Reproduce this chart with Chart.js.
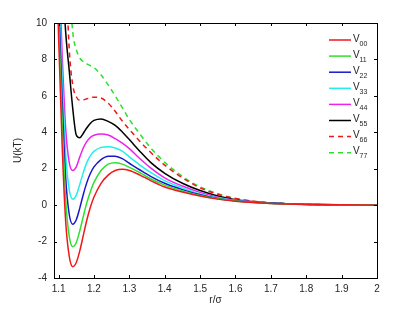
<!DOCTYPE html>
<html>
<head>
<meta charset="utf-8">
<script src="https://cdn.jsdelivr.net/npm/chart.js@4.4.1/dist/chart.umd.min.js"></script>
<style>
html,body{margin:0;padding:0;background:#fff;}
#wrap{width:417px;height:313px;position:relative;}
</style>
</head>
<body>
<div id="wrap"><canvas id="c" width="417" height="313"></canvas></div>
<script>
// r/sigma sample points
const r = [1.09,1.10,1.11,1.12,1.13,1.14,1.15,1.16,1.17,1.18,1.19,1.20,1.22,1.24,1.26,1.28,1.30,1.33,1.36,1.40,1.45,1.50,1.55,1.60,1.65,1.70,1.80,1.90,2.00];
// U(kT) for each pair potential
const V00 = [17,9.2,3.3,-0.9,-2.8,-3.38,-3.15,-2.5,-1.65,-0.8,-0.1,0.45,1.2,1.65,1.9,1.97,1.9,1.65,1.35,1.0,0.72,0.5,0.33,0.22,0.14,0.09,0.04,0.015,0];
const V11 = [17,10.2,4.6,0.3,-1.7,-2.28,-2.05,-1.4,-0.6,0.15,0.75,1.25,1.9,2.25,2.33,2.25,2.07,1.78,1.45,1.1,0.78,0.53,0.35,0.23,0.15,0.095,0.04,0.015,0];
const V22 = [18,11.2,5.8,1.5,-0.5,-1.05,-0.8,-0.15,0.6,1.25,1.75,2.1,2.5,2.69,2.68,2.55,2.3,1.93,1.58,1.2,0.85,0.57,0.37,0.24,0.155,0.1,0.04,0.015,0];
const V33 = [19,12.3,7,2.8,0.85,0.33,0.55,1.15,1.8,2.35,2.72,2.95,3.17,3.21,3.14,2.97,2.65,2.2,1.8,1.35,0.95,0.62,0.4,0.25,0.165,0.105,0.045,0.015,0];
const V44 = [20,13.5,8.3,4.2,2.35,1.9,2.1,2.65,3.15,3.5,3.72,3.84,3.91,3.85,3.65,3.4,3.1,2.55,2.05,1.5,1.05,0.7,0.44,0.28,0.18,0.11,0.045,0.015,0];
const V55 = [25,18,13,9.5,7.4,5.3,3.85,3.7,3.95,4.25,4.5,4.65,4.73,4.6,4.38,4.02,3.6,2.95,2.35,1.75,1.2,0.8,0.5,0.3,0.19,0.115,0.045,0.015,0];
const V66 = [40,30,21,13.5,8.6,6.6,5.95,5.76,5.78,5.84,5.9,5.93,5.88,5.6,5.15,4.62,4.15,3.5,2.9,2.2,1.5,0.95,0.6,0.36,0.21,0.125,0.045,0.015,0];
const V77 = [50,40,30,20,12.5,9.5,8.55,8.07,7.88,7.76,7.66,7.55,7.15,6.6,6.0,5.35,4.7,3.9,3.15,2.35,1.58,1.0,0.63,0.37,0.22,0.13,0.045,0.015,0];
const seriesNames = ['00','11','22','33','44','55','66','77'];
const xTicks = [1.1,1.2,1.3,1.4,1.5,1.6,1.7,1.8,1.9,2];
const yTicks = [-4,-2,0,2,4,6,8,10];

const colors = ['#f01818','#2ee02e','#1818c8','#22eeee','#ee22ee','#000000','#f01818','#2ee02e'];
const dashes = [[],[],[],[],[],[],[5,4],[5,4]];
const allSeries = [V00,V11,V22,V33,V44,V55,V66,V77];

const datasets = allSeries.map((arr,i)=>({
  label: 'V' + seriesNames[i],
  data: r.map((x,j)=>({x:x,y:arr[j]})),
  borderColor: colors[i],
  borderWidth: 1.5,
  borderDash: dashes[i],
  pointRadius: 0,
  fill: false,
  cubicInterpolationMode: 'monotone',
  clip: 0
}));

const FONT = "'Liberation Sans', Arial, sans-serif";
const TXT = '#262626';

const framePlugin = {
  id: 'frame',
  afterDatasetsDraw(chart){
    const ctx = chart.ctx, a = chart.chartArea;
    const xs = chart.scales.x, ys = chart.scales.y;
    ctx.save();
    ctx.strokeStyle = '#000';
    ctx.lineWidth = 1;
    ctx.strokeRect(a.left+0.5, a.top+0.5, a.right-a.left, a.bottom-a.top);
    const tl = 3;
    ctx.beginPath();
    xTicks.forEach(v=>{
      const px = Math.round(xs.getPixelForValue(v))+0.5;
      ctx.moveTo(px, a.bottom); ctx.lineTo(px, a.bottom-tl);
      ctx.moveTo(px, a.top); ctx.lineTo(px, a.top+tl);
    });
    yTicks.forEach(v=>{
      const py = Math.round(ys.getPixelForValue(v))+0.5;
      ctx.moveTo(a.left, py); ctx.lineTo(a.left+tl, py);
      ctx.moveTo(a.right, py); ctx.lineTo(a.right-tl, py);
    });
    ctx.stroke();
    // legend
    const lx0 = 329, lx1 = 351, ty0 = 40, dy = 16.1;
    datasets.forEach((d,i)=>{
      const y = ty0 + i*dy;
      ctx.beginPath();
      ctx.strokeStyle = d.borderColor;
      ctx.lineWidth = 1.5;
      ctx.setLineDash(d.borderDash);
      ctx.moveTo(lx0, y); ctx.lineTo(lx1, y);
      ctx.stroke();
      ctx.setLineDash([]);
      ctx.fillStyle = TXT;
      ctx.textBaseline = 'alphabetic';
      ctx.textAlign = 'left';
      ctx.font = '10px ' + FONT;
      ctx.fillText('V', 353, y+1.5);
      ctx.font = '7px ' + FONT;
      ctx.fillText(seriesNames[i], 359.5, y+5.5);
    });
    ctx.restore();
  }
};

new Chart(document.getElementById('c'), {
  type: 'line',
  data: { datasets },
  options: {
    responsive: false,
    animation: false,
    events: [],
    layout: { padding: { top: 23, right: 40, left: 0, bottom: 0 } },
    plugins: { legend: { display: false }, tooltip: { enabled: false } },
    scales: {
      x: {
        type: 'linear',
        min: 1.087, max: 2,
        afterBuildTicks: s => { s.ticks = xTicks.map(v=>({value:v})); },
        afterFit: s => { s.height = 35; },
        grid: { display: false, drawTicks: false },
        border: { display: false },
        ticks: {
          autoSkip: false, maxRotation: 0, padding: 5,
          color: TXT, font: { family: FONT, size: 10 },
          callback: v => String(Number(v.toFixed(1)))
        },
        title: { display: true, text: 'r/σ', color: TXT, font: { family: FONT, size: 10 }, padding: { top: 0, bottom: 7 } }
      },
      y: {
        type: 'linear',
        min: -4, max: 10,
        afterBuildTicks: s => { s.ticks = yTicks.map(v=>({value:v})); },
        afterFit: s => { s.width = 54; },
        grid: { display: false, drawTicks: false },
        border: { display: false },
        ticks: {
          autoSkip: false, padding: 7,
          color: TXT, font: { family: FONT, size: 10 },
          callback: v => String(v)
        },
        title: { display: true, text: 'U(kT)', color: TXT, font: { family: FONT, size: 10 }, padding: { top: 12, bottom: 0 } }
      }
    }
  },
  plugins: [framePlugin]
});
</script>
</body>
</html>
